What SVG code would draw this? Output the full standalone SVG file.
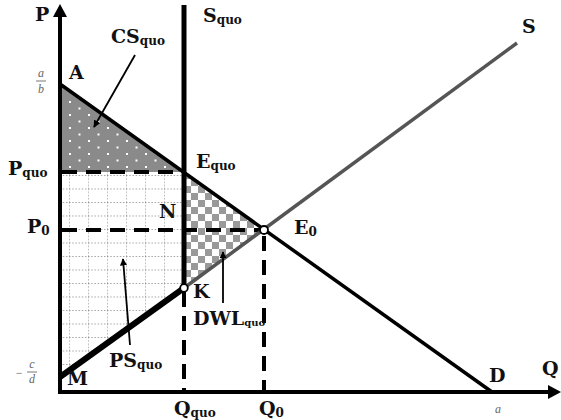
<svg xmlns="http://www.w3.org/2000/svg" width="561" height="420" viewBox="0 0 561 420">
<style>
.t{font-family:"DejaVu Serif","Liberation Serif",serif;font-weight:bold;font-size:19px;fill:#111}
.s{font-size:12px}
.f{font-family:"Liberation Serif",serif;font-style:italic;font-size:12px;fill:#666}
.dash{stroke:#000;stroke-width:4;stroke-dasharray:15 9;fill:none}
.ptr{stroke:#000;stroke-width:1.8;fill:none}
</style>
<defs>
<pattern id="dots" patternUnits="userSpaceOnUse" x="60" y="84" width="19" height="13">
<rect width="19" height="13" fill="#8a8a8a"/>
<rect x="9" y="4" width="2" height="2" fill="#fff"/>
<rect x="18.5" y="10.5" width="2" height="2" fill="#fff"/>
<rect x="-0.5" y="10.5" width="2" height="2" fill="#fff"/>
</pattern>
<pattern id="grid" patternUnits="userSpaceOnUse" x="69" y="175" width="19" height="13.5">
<rect width="19" height="13.5" fill="#fff"/>
<line x1="0" y1="0" x2="19" y2="0" stroke="#888" stroke-width="1.3" stroke-dasharray="1.5 1.7"/>
<line x1="0" y1="0" x2="0" y2="13.5" stroke="#888" stroke-width="1.3" stroke-dasharray="1.5 1.7"/>
</pattern>
<pattern id="checker" patternUnits="userSpaceOnUse" x="184" y="172" width="14" height="14">
<rect width="14" height="14" fill="#fff"/>
<rect width="7" height="7" fill="#999"/>
<rect x="7" y="7" width="7" height="7" fill="#999"/>
</pattern>
<marker id="ah" viewBox="0 0 10 10" refX="9" refY="5" markerWidth="4" markerHeight="4" orient="auto" markerUnits="strokeWidth">
<path d="M0,0 L10,5 L0,10 z" fill="#000"/>
</marker>
</defs>

<g id="areas">
<polygon id="cs-area" points="60,84 60,172 184,172" fill="url(#dots)"/>
<polygon id="ps-area" points="60,172 184,172 184,288 60,377" fill="url(#grid)"/>
<polygon id="dwl-area" points="184,172 184,288 264,230" fill="url(#checker)"/>
</g>

<g id="connectors">
<line class="dash" x1="62" y1="172" x2="184" y2="172"/>
<line class="dash" x1="62" y1="230" x2="264" y2="230"/>
<line class="dash" x1="184" y1="292" x2="184" y2="392"/>
<line class="dash" x1="264" y1="236" x2="264" y2="392"/>
<line x1="184" y1="288" x2="517" y2="43" stroke="#555" stroke-width="3.5"/>
<line x1="60" y1="84" x2="492" y2="392" stroke="#000" stroke-width="3.5"/>
<line x1="60" y1="377" x2="184" y2="288" stroke="#000" stroke-width="6"/>
<line x1="184" y1="5" x2="184" y2="286" stroke="#000" stroke-width="5"/>
<line class="ptr" x1="135" y1="55" x2="94" y2="127" stroke-width="2" marker-end="url(#ah)"/>
<line class="ptr" x1="130" y1="345" x2="123" y2="259" marker-end="url(#ah)"/>
<line class="ptr" x1="223" y1="303" x2="223" y2="252" marker-end="url(#ah)"/>
</g>

<g id="axes">
<line x1="60" y1="14" x2="60" y2="394" stroke="#000" stroke-width="4"/>
<polygon points="60,4 53,17 67,17" fill="#000"/>
<line x1="58" y1="392" x2="550" y2="392" stroke="#000" stroke-width="4"/>
<polygon points="561,392 548,385 548,399" fill="#000"/>
</g>

<g id="node-K"><circle cx="184" cy="288" r="3.8" fill="#fff" stroke="#000" stroke-width="1.8"/><text class="t" x="193" y="298" font-size="14">K</text></g>
<g id="node-E0"><circle cx="264" cy="230" r="4" fill="#fff" stroke="#000" stroke-width="1.8"/><text class="t" x="294" y="234">E<tspan class="s" dy="2">0</tspan></text></g>
<g id="node-Equo"><text class="t" x="196" y="168">E<tspan class="s" dy="2">quo</tspan></text></g>
<g id="node-A"><text class="t" x="69" y="79">A</text></g>
<g id="node-N"><text class="t" x="159" y="218" font-size="15">N</text></g>
<g id="node-M"><text class="t" x="67" y="385" font-size="16">M</text></g>
<g id="node-D"><text class="t" x="489" y="382">D</text></g>
<g id="node-S"><text class="t" x="522" y="33">S</text></g>
<g id="node-Squo"><text class="t" x="203" y="22">S<tspan class="s" dy="2">quo</tspan></text></g>

<g id="labels">
<text class="t" x="35" y="21">P</text>
<text class="t" x="542" y="375">Q</text>
<text class="t" x="8" y="175">P<tspan class="s" dy="2">quo</tspan></text>
<text class="t" x="27" y="233">P<tspan class="s" dy="2">0</tspan></text>
<text class="t" x="174" y="415">Q<tspan class="s" dy="2">quo</tspan></text>
<text class="t" x="259" y="415">Q<tspan class="s" dy="2">0</tspan></text>
<text class="t" x="111" y="43" font-size="16">CS<tspan class="s" dy="2">quo</tspan></text>
<text class="t" x="109" y="367" font-size="16">PS<tspan class="s" dy="2">quo</tspan></text>
<text class="t" x="193" y="325" font-size="13">DWL<tspan font-size="10" dy="1">quo</tspan></text>
<text class="f" x="41" y="77" text-anchor="middle">a</text>
<line x1="36" y1="81" x2="46" y2="81" stroke="#666" stroke-width="0.9"/>
<text class="f" x="41" y="93" text-anchor="middle">b</text>
<text class="f" x="19" y="377" text-anchor="middle">−</text>
<text class="f" x="32" y="368" text-anchor="middle">c</text>
<line x1="27" y1="372" x2="37" y2="372" stroke="#666" stroke-width="0.9"/>
<text class="f" x="32" y="383" text-anchor="middle">d</text>
<text class="f" x="498" y="413" text-anchor="middle" font-size="13">a</text>
</g>
</svg>
